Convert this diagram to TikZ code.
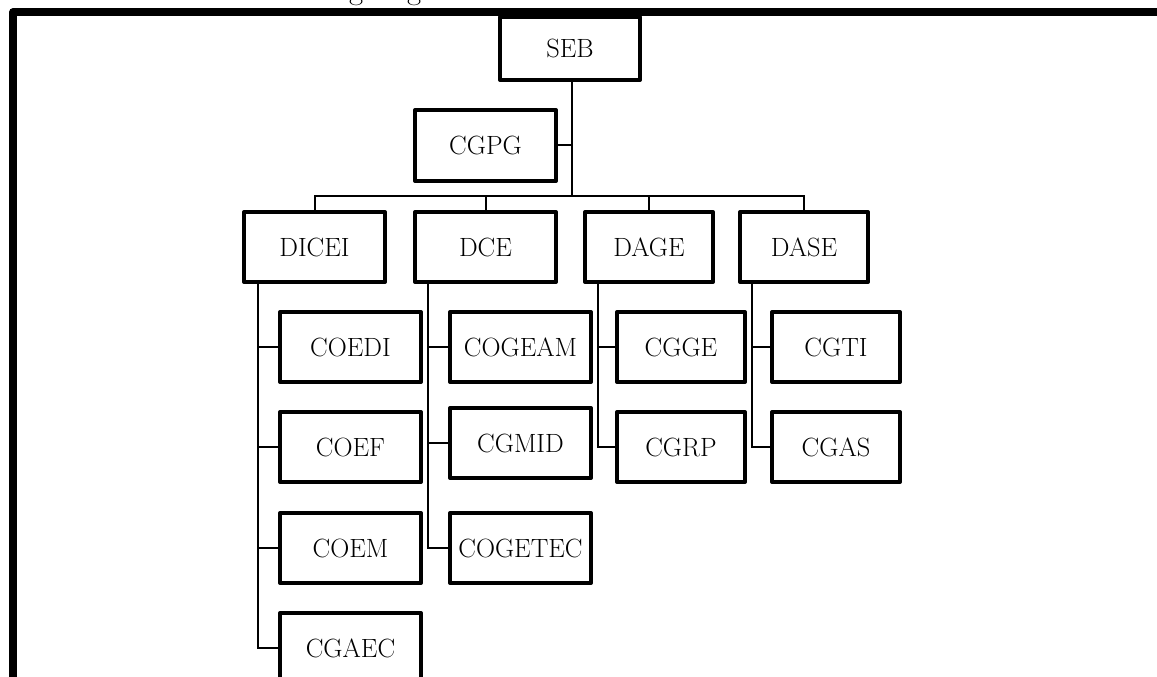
\documentclass[tikz,border=0pt]{standalone}

\begin{document}
\begin{tikzpicture}[x=0.75pt,y=-0.75pt,
  orgbox/.style={draw, line width=3pt, line join=round, inner sep=0pt,
    minimum height=52.5pt, font=\fontsize{19.8}{22}\selectfont},
  wide/.style={orgbox, minimum width=105.75pt},
  slim/.style={orgbox, minimum width=96pt},
  link/.style={line width=1.5pt}]
\useasboundingbox (0,0) rectangle (1157,677);
% title, cut off by the page
\begin{scope}
\clip (0,0) rectangle (1157,9);
\node[anchor=base west, inner sep=0pt, font=\fontsize{23}{25}\selectfont] (title) at (316,0) {Organograma};
\end{scope}
% frame
\draw[line width=5.5pt, line join=round] (13,690) -- (13,12) -- (1170,12);
% top levels
\node[orgbox, minimum width=105pt, minimum height=47.25pt] (seb) at (570,48.5) {SEB};
\node[wide, minimum height=53.25pt] (cgpg) at (485.5,145.5) {CGPG};
\node[wide] (dicei) at (314.5,247) {DICEI};
\node[wide] (dce) at (485.5,247) {DCE};
\node[slim] (dage) at (649,247) {DAGE};
\node[slim] (dase) at (804,247) {DASE};
% coordinations
\node[wide] (coedi) at (350.5,347) {COEDI};
\node[wide] (coef) at (350.5,447) {COEF};
\node[wide] (coem) at (350.5,548) {COEM};
\node[wide] (cgaec) at (350.5,648) {CGAEC};
\node[wide] (cogeam) at (520.5,347) {COGEAM};
\node[wide] (cgmid) at (520.5,443) {CGMID};
\node[wide] (cogetec) at (520.5,548) {COGETEC};
\node[slim] (cgge) at (681,347) {CGGE};
\node[slim] (cgrp) at (681,447) {CGRP};
\node[slim] (cgti) at (836,347) {CGTI};
\node[slim] (cgas) at (836,447) {CGAS};
% links
\coordinate (hub) at (572,196);
\draw[link] (seb.south -| hub) -- (hub);
\draw[link] (cgpg.east) -- (cgpg.east -| hub);
\draw[link] (dicei.north) -- (dicei.north |- hub) -- (dase.north |- hub) -- (dase.north);
\foreach \n in {dce,dage}
  \draw[link] (\n.north) -- (\n.north |- hub);
\foreach \p/\x/\last in {dicei/258/cgaec, dce/428/cogetec, dage/598/cgrp, dase/752/cgas}
  \draw[link] (\p.south -| \x,0) |- (\last.west);
\foreach \c/\x in {coedi/258, coef/258, coem/258, cogeam/428, cgmid/428, cgge/598, cgti/752}
  \draw[link] (\c.west) -- (\c.west -| \x,0);
\end{tikzpicture}
\end{document}
